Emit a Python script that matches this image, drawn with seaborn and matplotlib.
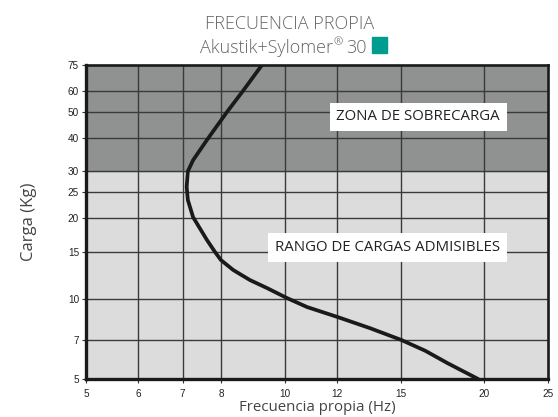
import matplotlib
matplotlib.use("Agg")
import matplotlib.pyplot as plt
import matplotlib.ticker as mticker
from matplotlib.patches import Rectangle
import seaborn as sns
import pandas as pd

# Data (frequency in Hz, load in Kg)
freq_hz = [19.6, 17.6, 16.3, 15.0, 13.45, 12.0, 10.8, 10.07, 9.39, 8.85, 8.35,
           8.0, 7.83, 7.62, 7.26, 7.13, 7.10, 7.13, 7.26, 7.62, 8.17, 8.64, 9.23]
carga_kg = [5.0, 5.74, 6.38, 7.0, 7.75, 8.54, 9.30, 10.05, 10.96, 11.74, 12.8,
            13.95, 15.0, 16.58, 20.2, 23.4, 26.2, 30.0, 33.0, 39.3, 50.0, 60.0, 75.0]
x_ticks = [5, 6, 7, 8, 10, 12, 15, 20, 25]
y_ticks = [5, 7, 10, 15, 20, 25, 30, 40, 50, 60, 75]
limite_sobrecarga = 30

df = pd.DataFrame({"Frecuencia": freq_hz, "Carga": carga_kg})

sns.set_theme(style="white")
plt.rcParams['font.family'] = ['Open Sans', 'DejaVu Sans']

W, H = 558, 417
fig = plt.figure(figsize=(W / 100, H / 100), dpi=100)
ax = fig.add_axes([86 / W, (H - 379) / H, 462 / W, 314 / H])

ax.set_xscale("log")
ax.set_yscale("log")
ax.set_xlim(x_ticks[0], x_ticks[-1])
ax.set_ylim(y_ticks[0], y_ticks[-1])

ax.axhspan(y_ticks[0], limite_sobrecarga, color="#dcdcdc", zorder=0)
ax.axhspan(limite_sobrecarga, y_ticks[-1], color="#8f9290", zorder=0)

for xv in x_ticks[1:-1]:
    ax.axvline(xv, color="#3a3a3a", lw=1.0, zorder=1)
for yv in y_ticks[1:-1]:
    ax.axhline(yv, color="#3a3a3a", lw=1.0, zorder=1)

sns.lineplot(data=df, x="Frecuencia", y="Carga", sort=False, estimator=None,
             color="#1a1a1a", lw=2.7, ax=ax, zorder=3)

ax.xaxis.set_major_locator(mticker.FixedLocator(x_ticks))
ax.yaxis.set_major_locator(mticker.FixedLocator(y_ticks))
ax.xaxis.set_minor_locator(mticker.NullLocator())
ax.yaxis.set_minor_locator(mticker.NullLocator())
ax.set_xticklabels([str(v) for v in x_ticks], family="Liberation Sans", fontsize=7.2, color="#222222")
ax.set_yticklabels([str(v) for v in y_ticks], family="Liberation Sans", fontsize=7.2, color="#222222")
ax.tick_params(axis="both", which="major", length=3, width=0.8, color="#333333",
               bottom=True, left=True, pad=2)
ax.tick_params(axis="x", pad=4)

for side, w in [("left", 2.4), ("bottom", 2.4), ("top", 1.9), ("right", 1.9)]:
    ax.spines[side].set_visible(True)
    ax.spines[side].set_color("#1a1a1a")
    ax.spines[side].set_linewidth(w)
    ax.spines[side].set_zorder(4)

ax.set_xlabel("Frecuencia propia (Hz)", fontsize=10.8, color="#444444", labelpad=1)
ax.set_ylabel("Carga (Kg)", fontsize=12, color="#444444", labelpad=22)

box = dict(boxstyle="square,pad=0.45", fc="white", ec="none")
ax.text(15.9, 47.9, "ZONA DE SOBRECARGA", ha="center", va="center",
        fontsize=10.8, color="#222222", bbox=box, zorder=5)
ax.text(14.29, 15.54, "RANGO DE CARGAS ADMISIBLES", ha="center", va="center",
        fontsize=10.8, color="#222222", bbox=box, zorder=5)

title_kw = dict(fontsize=13, color="#666666", fontweight="light")
fig.text(289.5 / W, (H - 29) / H, "FRECUENCIA PROPIA", ha="center", va="baseline", **title_kw)
fig.text(333 / W, (H - 53) / H, "Akustik+Sylomer", ha="right", va="baseline", **title_kw)
fig.text(334 / W, (H - 45) / H, "®", ha="left", va="baseline",
         fontsize=8, color="#666666", fontweight="light")
fig.text(346 / W, (H - 53) / H, "30", ha="left", va="baseline", **title_kw)
fig.patches.append(Rectangle((372 / W, (H - 53) / H), 15 / W, 16 / H, transform=fig.transFigure,
                             color="#009c8f", figure=fig))

fig.savefig("out.png", dpi=100)
